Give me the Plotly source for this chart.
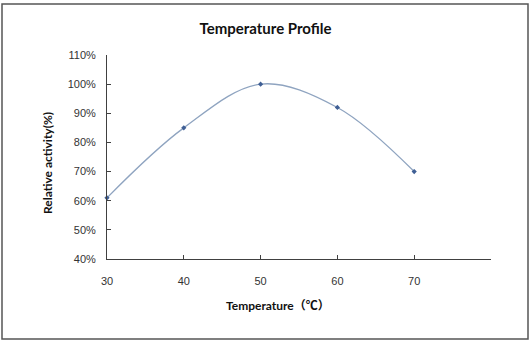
import plotly.graph_objects as go

temperature = [30, 40, 50, 60, 70]
activity = [61, 85, 100, 92, 70]
x_tickvals = [30, 40, 50, 60, 70, 80]
x_ticktext = ["30", "40", "50", "60", "70", ""]
y_tickvals = [40, 50, 60, 70, 80, 90, 100, 110]
y_ticktext = ["40%", "50%", "60%", "70%", "80%", "90%", "100%", "110%"]

fig = go.Figure()
fig.add_trace(go.Scatter(
    x=temperature, y=activity, mode="lines+markers",
    line=dict(shape="spline", smoothing=1.0, color="#8fa4c0", width=1.3),
    marker=dict(symbol="diamond", size=4, color="#3f5f95"),
    showlegend=False, cliponaxis=False,
))

axis_font = dict(family="Liberation Sans, Arial, sans-serif", size=11, color="#333333")
fig.update_layout(
    width=531, height=345,
    margin=dict(l=107, r=40, t=55, b=86),
    paper_bgcolor="white", plot_bgcolor="white",
    title=dict(text="<b>Temperature Profile</b>", x=0.5, xanchor="center",
               y=1 - 29 / 345, yanchor="middle",
               font=dict(family="Lato, Open Sans, sans-serif", size=15, color="#111111")),
    xaxis=dict(range=[30, 80], tickvals=x_tickvals, ticktext=x_ticktext,
               showgrid=False, zeroline=False, showline=True, linecolor="#404040", linewidth=1,
               ticks="inside", ticklen=4, tickcolor="#404040",
               tickfont=axis_font, ticklabelstandoff=12),
    yaxis=dict(range=[40, 110], tickvals=y_tickvals, ticktext=y_ticktext,
               showgrid=False, zeroline=False, showline=True, linecolor="#404040", linewidth=1,
               ticks="inside", ticklen=4, tickcolor="#404040",
               tickfont=axis_font, ticklabelstandoff=8),
    annotations=[
        dict(text="<b>Temperature（℃）</b>", xref="paper", yref="paper",
             x=(278 - 107) / 384, y=-(305 - 259) / 204, xanchor="center", yanchor="middle",
             showarrow=False, font=dict(family="Lato, Noto Sans CJK SC, sans-serif", size=12, color="#111111")),
        dict(text="<b>Relative activity(%)</b>", xref="paper", yref="paper",
             x=-(107 - 47) / 384, y=(259 - 163) / 204, xanchor="center", yanchor="middle",
             textangle=-90, showarrow=False,
             font=dict(family="Lato, Open Sans, sans-serif", size=12, color="#111111")),
    ],
    shapes=[dict(type="rect", xref="paper", yref="paper",
                 x0=(2 - 107) / 384, x1=(528 - 107) / 384,
                 y0=(259 - 339) / 204, y1=(259 - 4) / 204,
                 line=dict(color="#555555", width=1.5), layer="below")],
)

fig.write_html("out.html")
